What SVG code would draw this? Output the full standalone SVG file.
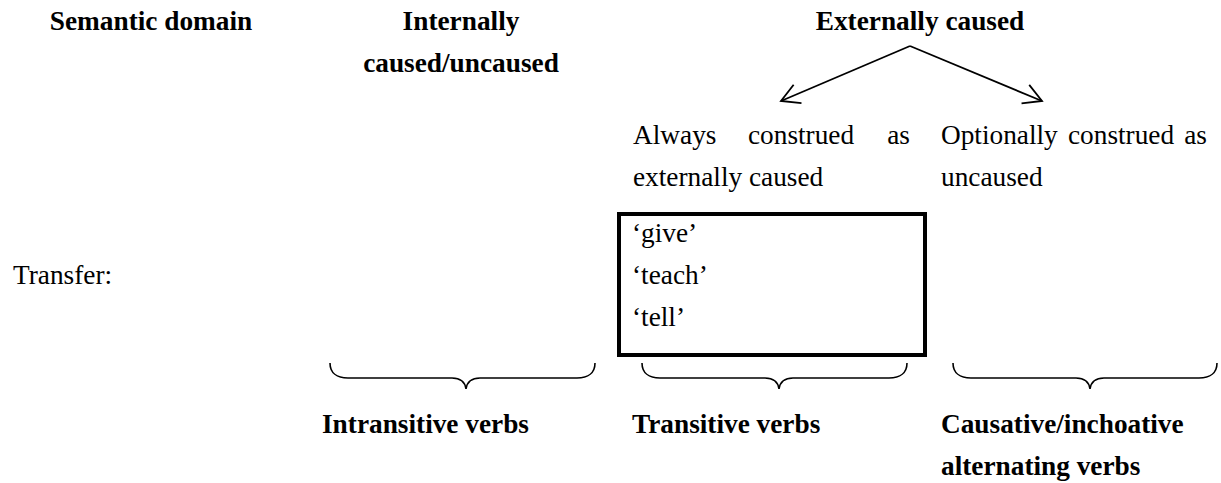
<svg xmlns="http://www.w3.org/2000/svg" width="1221" height="483" viewBox="0 0 1221 483">
<defs>
<style>
.t{font-family:'Liberation Serif','Times New Roman',serif;font-size:27.3px;fill:#000}
.b{font-weight:bold}
.c{text-anchor:middle}
.e{text-anchor:end}
.ln{fill:none;stroke:#000;stroke-width:1.8}
.br{fill:none;stroke:#000;stroke-width:1.6}
</style>
<marker id="ah" markerWidth="24" markerHeight="24" refX="19" refY="11" orient="auto" markerUnits="userSpaceOnUse">
<path d="M1,1 L19,11 L1,21" fill="none" stroke="#000" stroke-width="1.8"/>
</marker>
</defs>
<rect width="1221" height="483" fill="#fff"/>
<g class="t">
<g id="header-semantic"><text class="b c" x="151" y="29.5">Semantic domain</text></g>
<g id="header-internal"><text class="b c" x="461" y="29.5">Internally</text><text class="b c" x="461" y="71.5">caused/uncaused</text></g>
<g id="header-external"><text class="b c" x="920" y="29.5">Externally caused</text></g>
<g id="always"><text x="633" y="144">Always</text><text x="748" y="144">construed</text><text class="e" x="910" y="144">as</text><text x="633" y="186">externally caused</text></g>
<g id="optional"><text x="941" y="144">Optionally</text><text x="1068" y="144">construed</text><text class="e" x="1207" y="144">as</text><text x="941" y="186">uncaused</text></g>
<g id="transfer"><text x="13" y="284">Transfer:</text></g>
<g id="verbbox"><rect x="619" y="214" width="306" height="141" fill="none" stroke="#000" stroke-width="4"/><text x="632" y="242">‘give’</text><text x="632" y="284">‘teach’</text><text x="632" y="326">‘tell’</text></g>
<g id="intransitive"><text class="b" x="322" y="433">Intransitive verbs</text></g>
<g id="transitive"><text class="b" x="632" y="433">Transitive verbs</text></g>
<g id="causative"><text class="b" x="941" y="433">Causative/inchoative</text><text class="b" x="941" y="475">alternating verbs</text></g>
</g>
<g id="connectors">
<line class="ln" x1="910" y1="46" x2="781" y2="101" marker-end="url(#ah)"/>
<line class="ln" x1="910" y1="46" x2="1042" y2="101" marker-end="url(#ah)"/>
<path class="br" d="M330,363 C330,373 337,378 348,378 L452,378 C460,378 465,382 466,389 C467,382 472,378 480,378 L577,378 C588,378 595,373 595,363"/>
<path class="br" d="M642,363 C642,373 649,378 660,378 L765,378 C773,378 778,382 779,389 C780,382 785,378 793,378 L889,378 C900,378 907,373 907,363"/>
<path class="br" d="M953,363 C953,373 960,378 971,378 L1076,378 C1084,378 1089,382 1090,389 C1091,382 1096,378 1104,378 L1199,378 C1210,378 1217,373 1217,363"/>
</g>
</svg>
